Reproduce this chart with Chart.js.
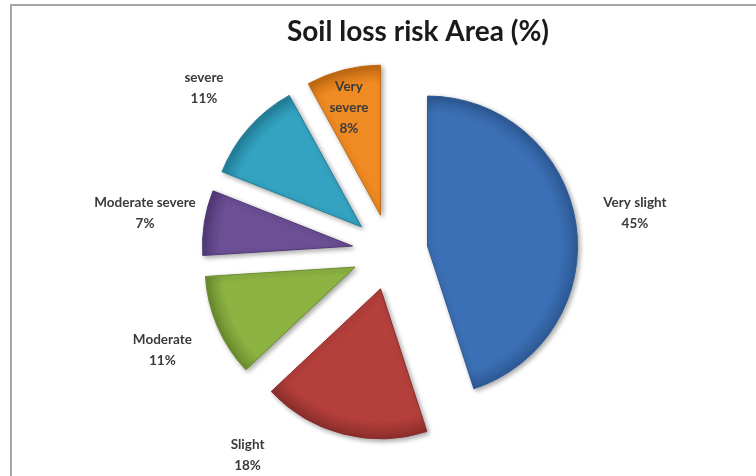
<!DOCTYPE html>
<html>
<head>
<meta charset="utf-8">
<script src="https://cdn.jsdelivr.net/npm/chart.js@4/dist/chart.umd.min.js"></script>
<style>
  html, body { margin: 0; padding: 0; background: #fff; }
  #wrap { width: 756px; height: 476px; }
</style>
</head>
<body>
<div id="wrap"><canvas id="chart" width="756" height="476"></canvas></div>
<script>
// Soil loss risk classes, clockwise from 12 o'clock
const categories = ['Very slight', 'Slight', 'Moderate', 'Moderate severe', 'severe', 'Very severe'];
const areaPct = [45, 18, 11, 7, 11, 8];
const sliceColors = ['#3c70b6', '#b43f3b', '#8db443', '#6c4f95', '#33a3c1', '#f08a22'];
const edgeColors = ['#2d5a96', '#8c2e2b', '#6c8d2f', '#523a78', '#237f99', '#c26a12'];
// labels that Excel put inside their slice
const insideLabels = ['Very severe'];

const EXPLODE = 38;     // how far each slice is pulled out
const LABEL_GAP = 60;   // outside labels sit this far beyond the exploded rim

// exploded pie: push every slice out along its bisector by the same distance
const baseArcDraw = Chart.ArcElement.prototype.draw;
Chart.ArcElement.prototype.draw = function (ctx) {
  const mid = (this.startAngle + this.endAngle) / 2;
  ctx.save();
  ctx.translate(Math.cos(mid) * EXPLODE, Math.sin(mid) * EXPLODE);
  ctx.shadowColor = 'rgba(0,0,0,0.35)';
  ctx.shadowBlur = 5;
  ctx.shadowOffsetX = 2;
  ctx.shadowOffsetY = 2;
  baseArcDraw.call(this, ctx);
  ctx.restore();
};

function shadedFill(context) {
  const i = context.dataIndex;
  const chart = context.chart;
  const area = chart.chartArea;
  if (!area) return sliceColors[i];
  const cx = (area.left + area.right) / 2;
  const cy = (area.top + area.bottom) / 2;
  const g = chart.ctx.createRadialGradient(cx, cy, 0, cx, cy, 150);
  g.addColorStop(0, sliceColors[i]);
  g.addColorStop(0.88, sliceColors[i]);
  g.addColorStop(1, edgeColors[i]);
  return g;
}

const labelPlugin = {
  id: 'sliceLabels',
  beforeDraw(chart) {
    const c = chart.ctx;
    c.save();
    c.strokeStyle = '#a6a6a6';
    c.lineWidth = 2;
    c.beginPath();
    c.moveTo(11, chart.height);
    c.lineTo(11, 5);
    c.lineTo(chart.width, 5);
    c.stroke();
    c.restore();
  },
  afterDatasetsDraw(chart) {
    const c = chart.ctx;
    const meta = chart.getDatasetMeta(0);
    const bottomLimit = chart.height - 21;
    c.save();
    c.font = 'bold 13.5px Lato';
    c.fillStyle = '#3a3a3a';
    c.textAlign = 'center';
    c.textBaseline = 'middle';
    meta.data.forEach((arc, i) => {
      const mid = (arc.startAngle + arc.endAngle) / 2;
      const name = categories[i];
      let lines, x, y;
      if (insideLabels.includes(name)) {
        const r = EXPLODE + arc.outerRadius * 0.74;
        x = arc.x + Math.cos(mid) * r - 4;
        y = arc.y + Math.sin(mid) * r;
        lines = name.split(' ').concat([areaPct[i] + '%']);
      } else {
        const r = arc.outerRadius + EXPLODE + LABEL_GAP;
        x = arc.x + Math.cos(mid) * r;
        y = arc.y + Math.sin(mid) * r;
        if (y > bottomLimit) {
          const dy = bottomLimit - arc.y;
          x = arc.x + Math.sign(Math.cos(mid)) * Math.sqrt(r * r - dy * dy);
          y = bottomLimit;
        }
        lines = [name, areaPct[i] + '%'];
      }
      const lh = 21;
      lines.forEach((t, k) => {
        c.fillText(t, x, y + (k - (lines.length - 1) / 2) * lh);
      });
    });
    // chart title
    c.font = 'bold 28px Lato';
    c.fillStyle = '#1a1a1a';
    c.fillText('Soil loss risk Area (%)', 418, 32);
    c.restore();
  }
};

new Chart(document.getElementById('chart'), {
  type: 'pie',
  data: {
    labels: categories,
    datasets: [{
      data: areaPct,
      backgroundColor: shadedFill,
      borderColor: edgeColors,
      borderWidth: 1,
      radius: 150
    }]
  },
  options: {
    responsive: false,
    animation: false,
    layout: { padding: { left: 24, right: 0, top: 28, bottom: 0 } },
    plugins: {
      legend: { display: false },
      tooltip: { enabled: false },
      title: { display: false }
    }
  },
  plugins: [labelPlugin]
});
</script>
</body>
</html>
